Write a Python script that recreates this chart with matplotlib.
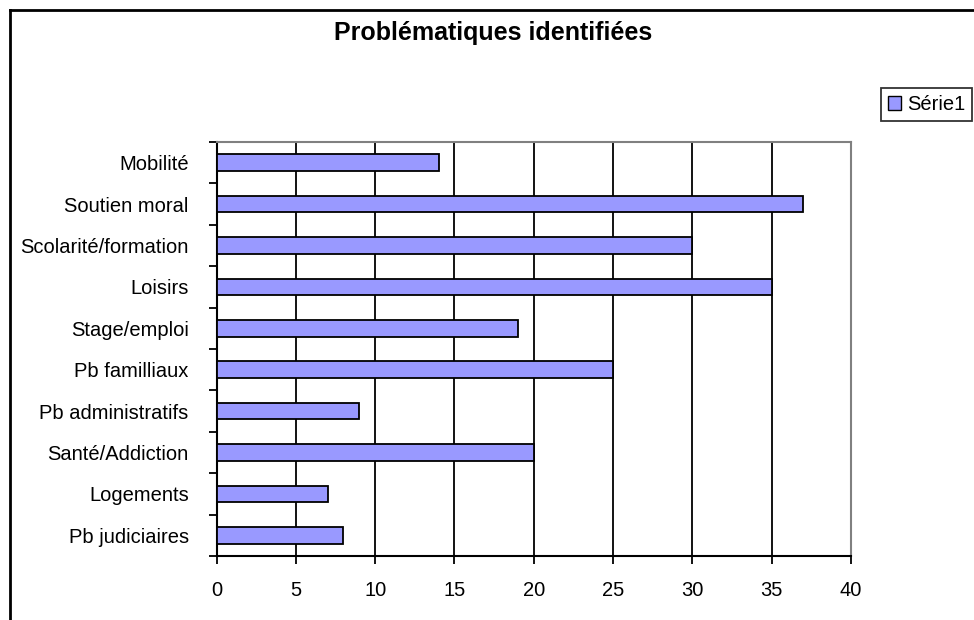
import matplotlib
matplotlib.use("Agg")
import matplotlib.pyplot as plt
from matplotlib.lines import Line2D
from matplotlib.patches import Patch

plt.rcParams['font.family'] = ['Liberation Sans', 'DejaVu Sans']

# data (bottom to top as drawn)
categories = ["Pb judiciaires", "Logements", "Santé/Addiction", "Pb administratifs",
              "Pb familliaux", "Stage/emploi", "Loisirs", "Scolarité/formation",
              "Soutien moral", "Mobilité"]
values = [8, 7, 20, 9, 25, 19, 35, 30, 37, 14]
x_ticks = [0, 5, 10, 15, 20, 25, 30, 35, 40]

bar_color = "#9999FF"

fig = plt.figure(figsize=(9.74, 6.2), dpi=100)
ax = fig.add_axes([216.5 / 974, 64 / 620, (851 - 216.5) / 974, (556 - 142) / 620])

ypos = list(range(len(categories)))
ax.barh(ypos, values, height=0.4, color=bar_color, edgecolor="black", linewidth=1.3, zorder=3)

ax.set_xlim(0, 40)
ax.set_ylim(-0.5, len(categories) - 0.5)
ax.set_xticks(x_ticks)
ax.set_xticklabels([str(t) for t in x_ticks], fontsize=14.5)
ax.set_yticks(ypos)
ax.set_yticklabels(categories, fontsize=14.5)
ax.tick_params(axis="y", length=0, pad=20)
ax.tick_params(axis="x", length=6, width=1.3, direction="out", pad=12)

# category boundary ticks on the y axis
ax.set_yticks([y - 0.5 for y in range(len(categories) + 1)], minor=True)
ax.tick_params(axis="y", which="minor", length=6, width=1.3, direction="out")

ax.grid(axis="x", color="black", linewidth=1.3, zorder=0)
ax.grid(axis="y", visible=False)
for side in ["left", "bottom"]:
    ax.spines[side].set_color("black")
    ax.spines[side].set_linewidth(1.5)
for side in ["top", "right"]:
    ax.spines[side].set_color("#808080")
    ax.spines[side].set_linewidth(1.5)

fig.text(493 / 974, 1 - 33 / 620, "Problématiques identifiées", ha="center", va="center",
         fontsize=18, fontweight="bold")

handle = Patch(facecolor=bar_color, edgecolor="black", linewidth=1)
leg = fig.legend([handle], ["Série1"], loc="center", bbox_to_anchor=(926.5 / 974, 1 - 104.5 / 620),
                 fontsize=14.5, frameon=True, fancybox=False, handlelength=0.65, handleheight=0.65,
                 handletextpad=0.3, borderpad=0.35, borderaxespad=0)
leg.get_frame().set_edgecolor("black")
leg.get_frame().set_linewidth(1.3)

# outer chart frame (left and top edges visible)
fig.add_artist(Line2D([9.5 / 974, 9.5 / 974], [0, 1 - 9.5 / 620], color="black", linewidth=2,
                      transform=fig.transFigure))
fig.add_artist(Line2D([9.5 / 974, 1], [1 - 9.5 / 620, 1 - 9.5 / 620], color="black", linewidth=2,
                      transform=fig.transFigure))

fig.savefig("out.png", dpi=100)
